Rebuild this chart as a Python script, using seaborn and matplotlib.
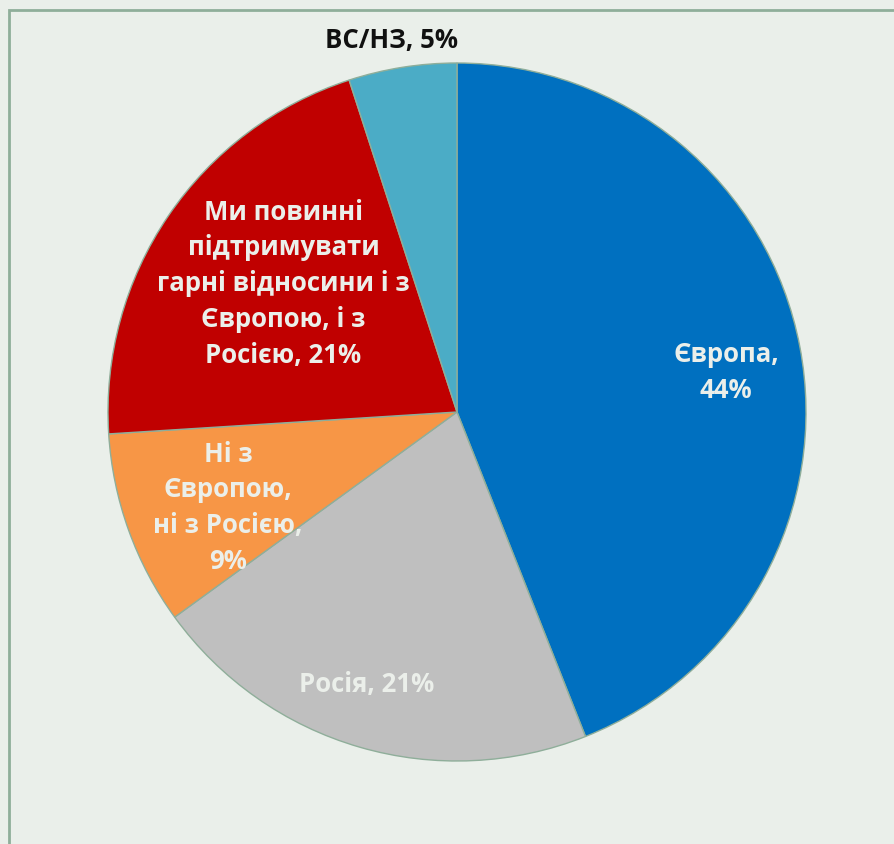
import matplotlib
matplotlib.use("Agg")
import matplotlib.pyplot as plt
import matplotlib.patches as mpatches
import numpy as np
import seaborn as sns

sns.set_style('white')
plt.rcParams['font.family'] = ['Open Sans', 'Roboto', 'DejaVu Sans']

# Data (clockwise from 12 o'clock)
labels = ['Європа', 'Росія', 'Ні з\nЄвропою,\nні з Росією',
          'Ми повинні\nпідтримувати\nгарні відносини і з\nЄвропою, і з\nРосією', 'ВС/НЗ']
label_sep = [',\n', ', ', ',\n', ', ', ', ']
values = [44, 21, 9, 21, 5]
colors = ['#0070C0', '#BFBFBF', '#F79646', '#C00000', '#4BACC6']

# label placement: fraction of radius along the slice's mid angle, plus text colour
label_radius = [0.78, 0.82, 0.71, 0.62, 1.085]
label_angle_shift = [-2.2, -2.3, 2.7, -2.5, 1.0]
text_colors = ['#EBEFEA', '#EBEFEA', '#EBEFEA', '#EBEFEA', '#111111']

bg = '#EAEFEA'
edge = '#8FAE9A'

fig = plt.figure(figsize=(8.95, 8.45), dpi=100, facecolor=bg)
ax = fig.add_axes([0, 0, 1, 1])
ax.set_facecolor(bg)

wedges, _ = ax.pie(values, colors=colors, startangle=90, counterclock=False,
                   radius=1.0,
                   wedgeprops=dict(edgecolor=edge, linewidth=1.0))

for w, lab, sep, v, r, da, tc in zip(wedges, labels, label_sep, values,
                                      label_radius, label_angle_shift, text_colors):
    mid = np.deg2rad((w.theta1 + w.theta2) / 2 + da)
    ax.text(r * np.cos(mid), r * np.sin(mid), f'{lab}{sep}{v}%',
            ha='center', va='center', color=tc, fontsize=18.5,
            fontweight='bold', linespacing=1.42)

# map pie centre to pixel (457, 413), radius 349 px
R = 349
ax.set_xlim(-457 / R, (895 - 457) / R)
ax.set_ylim(-(845 - 413) / R, 413 / R)
ax.set_aspect('auto')
ax.axis('off')

# chart frame (runs off right and bottom edge)
frame = mpatches.Rectangle((9 / 895, -0.05), 1.2, 1 - 11 / 845 + 0.05,
                           transform=fig.transFigure, fill=False,
                           edgecolor=edge, linewidth=2)
fig.patches.append(frame)

fig.savefig('out.png', dpi=100, facecolor=bg)
